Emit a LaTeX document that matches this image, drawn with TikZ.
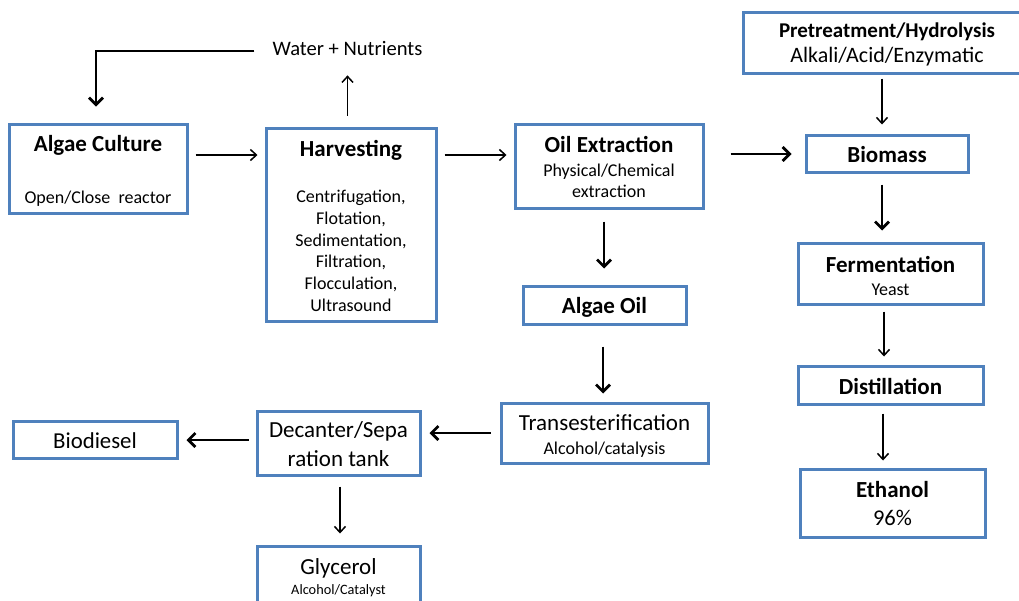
\documentclass[tikz,border=0pt]{standalone}
\usepackage{fontspec}
\setmainfont{Carlito}
\usetikzlibrary{arrows.meta}
\definecolor{boxblue}{HTML}{4F81BD}
\newcommand{\ttlb}{\fontsize{23}{25}\selectfont\bfseries}
\newcommand{\ttlr}{\fontsize{23}{25}\selectfont}
% raise reported height of a first line: moves node text down by #1/2
\newcommand{\dn}[2]{\raisebox{0pt}[\dimexpr\height+#1\relax]{#2}}
\begin{document}
\begin{tikzpicture}[x=1pt,y=-1pt,
  box/.style={draw=boxblue, line width=3pt, fill=white, inner sep=0pt, align=center},
  arr/.style={-{Straight Barb[length=6pt,width=11pt]}, line width=1.5pt},
  thk/.style={-{Straight Barb[length=7pt,width=14pt]}, line width=2.8pt}]
\useasboundingbox (0,0) rectangle (1019,600);
% nodes
\node[box, minimum width=178pt, minimum height=89pt, font=\fontsize{18}{22}\selectfont] (alg) at (98,168.5)
  {\dn{4pt}{\ttlb Algae Culture}\\[30pt]Open/Close\ \ reactor};
\node[box, minimum width=170pt, minimum height=193pt, font=\fontsize{18}{21.8}\selectfont] (harv) at (351,224.5)
  {\dn{3pt}{\ttlb Harvesting}\\[24pt]
   Centrifugation,\\ Flotation,\\ Sedimentation,\\ Filtration,\\ Flocculation,\\ Ultrasound};
\node[box, minimum width=188pt, minimum height=84pt, font=\fontsize{18}{21}\selectfont] (oil) at (609,166)
  {\dn{2pt}{\ttlb Oil Extraction}\\[3pt]
   Physical/Chemical\\ extraction};
\node[box, minimum width=163pt, minimum height=38pt] (aoil) at (604.5,305)
  {\dn{4pt}{\ttlb Algae Oil}};
\node[box, minimum width=288pt, minimum height=61pt, font=\fontsize{22}{25}\selectfont] (pre) at (887,42.5)
  {\dn{4pt}{\fontsize{21}{25}\selectfont\bfseries Pretreatment/Hydrolysis}\\
   Alkali/Acid/Enzymatic};
\node[box, minimum width=162pt, minimum height=37pt] (bio) at (887,153.5)
  {\dn{2pt}{\ttlb Biomass}};
\node[box, minimum width=185pt, minimum height=61pt, font=\fontsize{18}{23}\selectfont] (ferm) at (890.5,273.5)
  {\dn{4pt}{\ttlb Fermentation}\\ Yeast};
\node[box, minimum width=185pt, minimum height=38pt] (dist) at (890.5,385)
  {\dn{2pt}{\ttlb Distillation}};
\node[box, minimum width=185pt, minimum height=68pt, font=\fontsize{22.5}{28}\selectfont] (eth) at (892.5,503)
  {\dn{2pt}{\ttlb Ethanol}\\ 96\%};
\node[box, minimum width=207pt, minimum height=60pt, font=\fontsize{18}{24}\selectfont] (trans) at (604.5,433)
  {\dn{5pt}{\ttlr Transesterification}\\ Alcohol/catalysis};
\node[box, minimum width=163pt, minimum height=64pt, font=\fontsize{23}{29}\selectfont] (dec) at (338.5,443)
  {\dn{3pt}{Decanter/Sepa}\\ ration tank};
\node[box, minimum width=164pt, minimum height=37pt, font=\fontsize{22.8}{25}\selectfont] (biod) at (95,439.5)
  {\dn{2pt}{Biodiesel}};
\node[box, minimum width=163pt, minimum height=64pt, font=\fontsize{14.3}{20}\selectfont] (gly) at (338.5,578)
  {{\ttlr Glycerol}\\ Alcohol/Catalyst};
\node[font=\fontsize{20.6}{24}\selectfont, inner sep=2pt] (water) at (347.5,48) {Water + Nutrients};
% helper coordinates for arrow lines
\coordinate (r1) at (0,155);
\coordinate (r2) at (0,154);
\coordinate (r3) at (0,433);
\coordinate (r4) at (0,440);
\coordinate (c1) at (882,0);
\coordinate (c2) at (884,0);
\coordinate (c3) at (883,0);
\coordinate (c4) at (604,0);
\coordinate (c5) at (603,0);
\coordinate (c6) at (340,0);
\coordinate (c7) at (96,0);
% connectors
\draw[thk, shorten >=16pt] ([shift={(-16pt,-3pt)}]water.west) -| (alg.north -| c7);
\draw[arr, shorten <=11pt, shorten >=18pt] (harv.north -| water.south) -- (water.south);
\draw[arr, shorten <=7pt, shorten >=7pt] (alg.east |- r1) -- (harv.west |- r1);
\draw[arr, shorten <=7pt, shorten >=7pt] (harv.east |- r1) -- (oil.west |- r1);
\draw[thk, shorten <=26pt, shorten >=13pt] (oil.east |- r2) -- (bio.west |- r2);
\draw[arr, shorten <=4pt, shorten >=9pt] (pre.south -| c1) -- (bio.north -| c1);
\draw[thk, shorten <=12pt, shorten >=16pt] (oil.south -| c4) -- (aoil.north -| c4);
\draw[thk, shorten <=11pt, shorten >=11pt] (bio.south -| c1) -- (ferm.north -| c1);
\draw[arr, shorten <=6pt, shorten >=8pt] (ferm.south -| c2) -- (dist.north -| c2);
\draw[arr, shorten <=8pt, shorten >=7pt] (dist.south -| c3) -- (eth.north -| c3);
\draw[thk, shorten <=21pt, shorten >=8pt] (aoil.south -| c5) -- (trans.north -| c5);
\draw[thk, shorten <=9pt, shorten >=8pt] (trans.west |- r3) -- (dec.east |- r3);
\draw[thk, shorten <=7pt, shorten >=8pt] (dec.west |- r4) -- (biod.east |- r4);
\draw[arr, shorten <=10pt, shorten >=11pt] (dec.south -| c6) -- (gly.north -| c6);
\end{tikzpicture}
\end{document}
